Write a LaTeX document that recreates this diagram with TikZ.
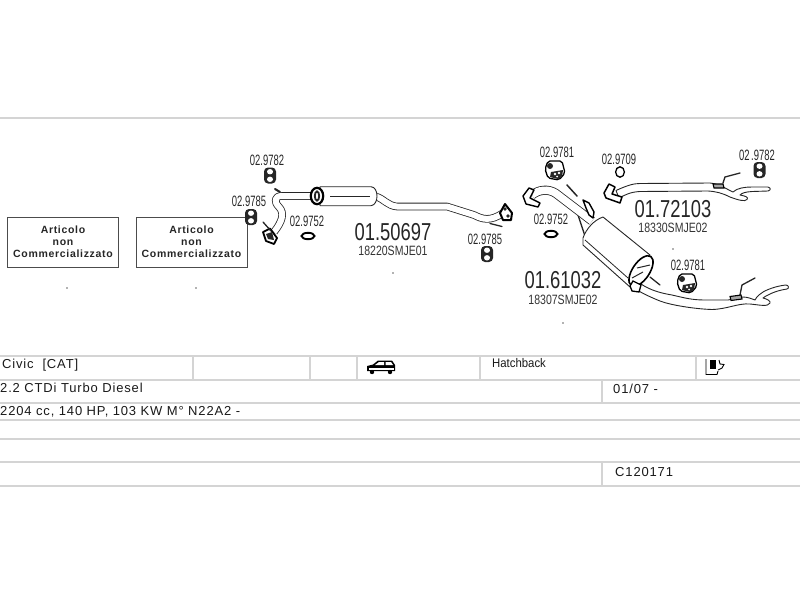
\documentclass[tikz,border=0pt]{standalone}
\usepackage{fontspec}
\setmainfont{Liberation Sans}
\newfontfamily\spacedfont[LetterSpace=6.5]{Liberation Sans}
\newfontfamily\boxfont[LetterSpace=6.5]{Liberation Sans}
\tikzset{
  rule/.style={draw=black!17,line width=2pt},
  pipe/.style={draw=black!85,line width=0.8pt,double=white,double distance=6pt,line join=round},
  widepipe/.style={draw=black!85,line width=0.8pt,double=white,double distance=7.5pt,line join=round},
  shell/.style={draw=black!85,line width=0.9pt,fill=white,line join=round},
  rod/.style={draw=black!85,line width=1.3pt,line cap=round},
  flange/.style={draw=black,line width=1.5pt,fill=white,line join=round},
  partno/.style={text=black!85,font=\fontsize{15}{15}\selectfont,xscale=0.63,inner sep=0pt},
  bigno/.style={text=black!85,font=\fontsize{24.5}{25}\selectfont,xscale=0.75,inner sep=0pt},
  refno/.style={text=black!80,font=\fontsize{13.5}{14}\selectfont,xscale=0.78,inner sep=0pt},
  rowtext/.style={text=black!90,font=\spacedfont\fontsize{13}{13}\selectfont,anchor=west,inner sep=0pt},
  notsold/.style={draw=black!70,line width=0.9pt,minimum width=111pt,minimum height=50pt,inner sep=0pt,
    align=center,font=\boxfont\bfseries\fontsize{10.5}{11.8}\selectfont,text=black!85},
  speck/.style={circle,fill=black!60,inner sep=0pt,minimum size=1.8pt},
}
\newcommand{\ringhanger}[3]{% x, y, angle
  \begin{scope}[shift={(#1,#2)},rotate=#3]
    \fill[black!85,rounded corners=4pt] (-6,-8) rectangle (6,8);
    \fill[white] (0,-3.8) ellipse (3 and 2.7);
    \fill[white] (0,3.8) ellipse (3 and 2.7);
  \end{scope}}
\newcommand{\blockhanger}[2]{% x, y
  \begin{scope}[shift={(#1,#2)}]
    \draw[black,line width=1.3pt,fill=white,rounded corners=2pt] (-10,-1) -- (-7,-9) -- (7,-9) -- (10,3) -- (4,10) -- (-7,8) -- cycle;
    \fill[black!85] (-5,-4) circle (3);
    \fill[black!85] (-4,2) -- (8,0) -- (7,7) -- (3,9) -- (-5,7) -- cycle;
    \fill[white] (0,4) circle (1.3) (4,3) circle (1.3) (2,6.5) circle (1);
  \end{scope}}
\begin{document}
\begin{tikzpicture}[x=1pt,y=-1pt]
  \useasboundingbox (0,0) rectangle (800,600);
  % frame of the sheet and the table below it
  \draw[rule] (0,117.5)--(800,117.5);
  \foreach \y in {356,379.5,403,420,439,462,486} \draw[rule] (0,\y)--(800,\y);
  \foreach \x in {193,310,357,480,696} \draw[rule] (\x,356)--(\x,379.5);
  \draw[rule] (602,379.5)--(602,403);
  \draw[rule] (602,462)--(602,486);
  \node[rowtext] (civic) at (2,365) {Civic\,\, [CAT]};
  \node[rowtext] (engine) at (0,388) {2.2 CTDi Turbo Diesel};
  \node[rowtext] (power) at (0,412) {2204 cc, 140 HP, 103 KW M° N22A2 -};
  \node[rowtext,font=\fontsize{12.5}{13}\selectfont,xscale=0.91] (body) at (492,363.5) {Hatchback};
  \node[rowtext] (years) at (613,389) {01/07 -};
  \node[rowtext] (code) at (615,472) {C120171};
  % not sold boxes
  \node[notsold] (boxA) at (63,242) {Articolo\\non\\Commercializzato};
  \node[notsold] (boxB) at (191.5,242) {Articolo\\non\\Commercializzato};
  \foreach \x/\y/\n in {67/288/a,196/288/b,393/273/c,673/249/d,563/323/e}
    \node[speck] (speck\n) at (\x,\y) {};
  % car
  \fill[black] (367,371) -- (367,366) -- (373,364.5) -- (378,360.5) -- (392,360.5) -- (395,365) -- (395,371) -- cycle;
  \fill[white] (375,365) -- (379,362) -- (384,362) -- (384,365) -- cycle (385.5,365) -- (385.5,362) -- (391,362) -- (393,365) -- cycle;
  \fill[white] (369,367.5) rectangle (393.5,369.5);
  \fill[black] (372,372) circle (2.2) (390,372) circle (2.2);
  % transmission mark
  \draw[black,line width=0.9pt] (706,359) -- (706,374.5) -- (717,374.5) -- (718,371);
  \fill[black] (710,359.5) rectangle (716,369);
  \draw[black,line width=0.9pt] (719,360) -- (720,364) -- (724,364.5) -- (722,368) -- (718,370);
  % middle silencer 01.50697
  \draw[pipe] (376,196.5) .. controls (384,199) and (388,206) .. (397,206.5) -- (447,206.5) -- (474,215) .. controls (482,219) and (490,222) .. (503,213);
  \draw[pipe] (312,196) -- (282,196) .. controls (274,196) and (274,202) .. (279,207) .. controls (285,213) and (282,222) .. (274,232);
  \draw[shell] (320,186.7) -- (371,186.7) .. controls (379,187) and (379,205) .. (371,205.7) -- (320,205.7) -- cycle;
  \draw[black!85,line width=0.8pt] (330,196.7) -- (370,196.7);
  \draw[black,line width=2.2pt,fill=white] (317,196) ellipse (6.2 and 8.2);
  \draw[black!85,line width=1.8pt] (317,196) ellipse (2.2 and 4.6);
  \draw[rod,line width=2pt] (275,189) -- (280,192);
  \draw[flange,line width=1.8pt] (263,232) -- (270,228.5) -- (277,238) -- (274,244) -- (266,241) -- cycle;
  \fill[black!85] (266,234) -- (272,232) -- (274,240) -- (268,239) -- cycle;
  \draw[rod] (263,222) -- (271,231);
  \draw[flange,line width=2pt] (500,213) -- (505,204) -- (512,213) -- (511,220) -- (503,220) -- cycle;
  \fill[black!85] (505,209) circle (1.8) (508,216) circle (1.8);
  \draw[rod] (490,223.5) -- (502,226.5);
  % rear silencer 01.61032
  \draw[rod] (577,212) -- (587,242);
  \draw[widepipe] (532,195) .. controls (538,190) and (548,188) .. (556,193.5) -- (592,221);
  \draw[shell] (641,284) .. controls (650,290) and (660,293) .. (672,295) .. controls (685,298) and (692,300) .. (705,300) -- (728,300) .. controls (735,299) and (738,297) .. (743,297) .. controls (748,297) and (752,299) .. (755,300) .. controls (757,296) and (760,294) .. (763,292) .. controls (770,288) and (780,285.5) .. (786,285) .. controls (789,285) and (789,289) .. (787,289) .. controls (780,290) and (774,292) .. (770,294) .. controls (766,296) and (764,297) .. (763,298) .. controls (767,299) and (771,301) .. (770,303) .. controls (768,307) and (760,305) .. (750,304) .. controls (738,303) and (728,309) .. (712,309.5) .. controls (695,309) and (670,305) .. (660,301) .. controls (650,297) and (642,293) .. (637,290) -- cycle;
  \draw[flange,line width=1.4pt] (529,188) -- (523,196) -- (526,204) -- (538,207) -- (540,203) -- (530,198) -- (534,190) -- cycle;
  \draw[flange,line width=1.4pt] (583,200) -- (589,203) -- (594,212) -- (593,218) -- (589,215) -- (586,208) -- cycle;
  \draw[rod,line width=1.5pt] (567,185) -- (577,196);
  \draw[shell] (603,217) -- (650,255) -- (630,287) -- (583,245) -- (583,238) .. controls (586,229) and (594,220) .. (603,217) -- cycle;
  \draw[black!85,line width=0.8pt] (585,240) -- (628,278);
  \draw[rod] (650,277) -- (660,285);
  \draw[black,line width=1.6pt,fill=white,rotate around={56:(641,271)}] (641,271) ellipse (17.5 and 8.5);
  \draw[black!85,line width=1pt] (637,268) -- (650,265) (632,278) -- (643,272);
  \draw[black,line width=1.3pt,fill=white] (630,286) -- (633,281) -- (641,285) -- (639,292) -- (632,291) -- cycle;
  \draw[rod] (740,295) -- (742,285) -- (755,278);
  \draw[black,fill=black!35,line width=1.1pt] (730,296.5) -- (741,295) -- (742,299) -- (731,300.5) -- cycle;
  % tail pipe 01.72103
  \draw[shell] (616,190.5) .. controls (628,185) and (634,183.5) .. (640,183.5) -- (710,183) .. controls (720,184) and (728,190) .. (733,192) .. controls (737,188) and (745,187) .. (752,187) -- (768,187) .. controls (771,188) and (771,190) .. (768,191) -- (752,191.5) .. controls (745,192) and (742,193) .. (740,195) .. controls (745,196) and (749,197) .. (747,199.5) .. controls (745,202) and (738,200) .. (730,197) .. controls (722,193) and (716,191.5) .. (708,191) -- (640,191.5) .. controls (630,192) and (625,195) .. (619,198) -- cycle;
  \draw[flange,line width=1.5pt] (609,184) -- (604,193) -- (606,198) -- (620,203) -- (622,197) -- (612,194) -- (615,187) -- cycle;
  \draw[rod] (723,183) -- (725,177) -- (740,173);
  \draw[black,fill=black!35,line width=1.1pt] (713,184) -- (723,184) -- (724,188) -- (714,188) -- cycle;
  % hangers and rings
  \ringhanger{270}{175.5}{0}
  \ringhanger{251}{217}{0}
  \ringhanger{487}{254}{0}
  \ringhanger{759.5}{170}{0}
  \blockhanger{555}{170}
  \blockhanger{687}{283}
  \foreach \x/\y in {308/236,551/234}
    \draw[black,line width=1.9pt,fill=white] (\x,\y) ellipse (6.5 and 3.2);
  \draw[black,line width=1.3pt] (620,172) ellipse (4.4 and 5.2);
  % part numbers
  \foreach \x/\y/\n/\t in {267/160/hA/02.9782,249/201/hB/02.9785,307/221/rA/02.9752,485/239/hC/02.9785,
      557/152/hD/02.9781,619/159/rB/02.9709,757/155/hE/02\,.9782,551/219/rC/02.9752,688/265/hF/02.9781}
    \node[partno] (\n) at (\x,\y) {\t};
  \node[bigno] (midno) at (393,232) {01.50697};
  \node[refno] (midref) at (393,251) {18220SMJE01};
  \node[bigno] (tailno) at (673,209) {01.72103};
  \node[refno] (tailref) at (673,228) {18330SMJE02};
  \node[bigno] (rearno) at (563,280.5) {01.61032};
  \node[refno] (rearref) at (563,299.5) {18307SMJE02};
\end{tikzpicture}
\end{document}
